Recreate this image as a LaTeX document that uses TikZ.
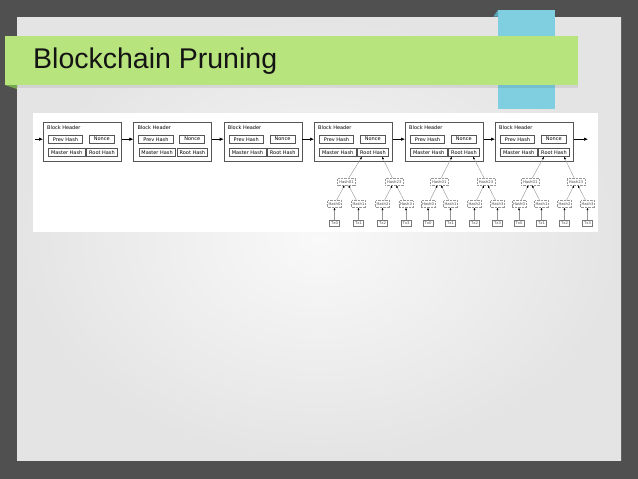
\documentclass[tikz,border=0pt]{standalone}
\usepackage{fontspec}
\setmainfont{Liberation Sans}
\newfontfamily\diagfont{DejaVu Sans}
\usetikzlibrary{arrows.meta,positioning,calc}
\definecolor{FrameGray}{RGB}{80,80,80}
\definecolor{PaperLight}{RGB}{249,249,249}
\definecolor{PaperEdge}{RGB}{228,228,228}
\definecolor{TitleGreen}{RGB}{184,228,126}
\definecolor{TitleGreenDark}{RGB}{118,168,78}
\definecolor{TabBlue}{RGB}{128,207,224}
\definecolor{TabBlueDark}{RGB}{88,168,188}
\definecolor{BoxGray}{RGB}{85,85,85}
\definecolor{TreeGray}{RGB}{150,150,150}

\begin{document}
\begin{tikzpicture}[x=1pt,y=-1pt,
 block/.style={draw=BoxGray,fill=white,line width=0.6pt,minimum width=78pt,minimum height=39pt,inner sep=0pt},
 field/.style={draw=BoxGray,fill=white,line width=0.5pt,minimum height=8.5pt,inner sep=0pt,font=\diagfont\fontsize{5}{6}\selectfont},
 leaf/.style={draw=TreeGray,densely dotted,fill=white,minimum height=6.8pt,minimum width=13pt,inner xsep=1pt,inner ysep=0pt,
  font=\diagfont\fontsize{3.8}{4}\selectfont,text=black!70},
 txbox/.style={leaf,solid,draw=BoxGray!80,minimum width=10pt},
 pairbox/.style={leaf,minimum width=18pt},
 chain/.style={line width=0.6pt,-{Latex[length=4pt,width=3.5pt]}},
 treearrow/.style={draw=TreeGray,line width=0.4pt,-{Latex[length=2.5pt,width=2pt,color=black]}}]
\useasboundingbox (0,0) rectangle (638,479);
\fill[FrameGray] (0,0) rectangle (638,479);
\shade[inner color=PaperLight,outer color=PaperEdge] (17,17) rectangle (621,460);
\fill[TabBlue] (498,10) rectangle (555,109);
\fill[TabBlueDark] (493.5,16.5) -- (498,10) -- (498,16.5) -- cycle;
\fill[black,opacity=0.08] (17,85) rectangle (578,88);
\fill[TitleGreen] (5,36) rectangle (578,85);
\fill[TitleGreenDark] (5,85) -- (17,85) -- (17,89) -- cycle;
\node[anchor=base west,inner sep=0pt,font=\fontsize{28.5}{30}\selectfont,text=black!92] (title) at (33,68.3) {Blockchain Pruning};
\fill[white] (32.5,113.3) rectangle (598,231.7);

\foreach \i/\xc in {1/82.3,2/172.7,3/263,4/353.3,5/444.3,6/534.3} {
 \node[block] (b\i) at (\xc,141.3) {};
 \node[anchor=west,inner sep=0pt,font=\diagfont\fontsize{5}{6}\selectfont] (l\i) at ($(b\i.north west)+(4,6)$) {Block Header};
 \node[field,minimum width=34.4pt] (p\i) at ($(b\i)+(-16.8,-2.1)$) {Prev Hash};
 \node[field,minimum width=25pt] (n\i) at ($(b\i)+(19.5,-2.1)$) {Nonce};
 \node[field,minimum width=36.7pt] (m\i) at ($(b\i)+(-15.6,10.9)$) {Master Hash};
 \node[field,minimum width=30.6pt] (r\i) at ($(b\i)+(19.7,10.9)$) {Root Hash};
}
\coordinate (in) at (35,139.2);
\coordinate (out) at (588,139.2);
\draw[chain] (in) -- (b1.west |- p1);
\foreach \i/\j in {1/2,2/3,3/4,4/5,5/6}
 \draw[chain] (b\i.east |- p\j) -- (b\j.west |- p\j);
\draw[chain] (b6.east |- p6) -- (out);

\foreach \k/\xc/\h/\t in {1/334.5/Hash0/Tx0,2/358.5/Hash1/Tx1,3/382.5/Hash2/Tx2,4/406/Hash3/Tx3,
 5/428/Hash0/Tx0,6/450.5/Hash1/Tx1,7/474.5/Hash2/Tx2,8/497.5/Hash3/Tx3,
 9/519/Hash0/Tx0,10/541.5/Hash1/Tx1,11/564.5/Hash2/Tx2,12/587.5/Hash3/Tx3} {
 \node[leaf] (h\k) at (\xc,204) {\h};
 \node[txbox] (t\k) at (\xc,223.2) {\t};
 \draw[treearrow] (t\k) -- (h\k);
}
\foreach \m/\a/\b/\name in {1/1/2/Hash01,2/3/4/Hash23,3/5/6/Hash01,4/7/8/Hash23,5/9/10/Hash01,6/11/12/Hash23} {
 \node[pairbox] (q\m) at ($(h\a)!0.5!(h\b)+(0,-22.3)$) {\name};
 \draw[treearrow] (h\a) -- (q\m);
 \draw[treearrow] (h\b) -- (q\m);
}
\foreach \m/\n/\s in {1/4/-11,2/4/9,3/5/-12,4/5/9,5/6/-10,6/6/10}
 \draw[treearrow] (q\m) -- ([xshift=\s pt]r\n.south);
\end{tikzpicture}
\end{document}
